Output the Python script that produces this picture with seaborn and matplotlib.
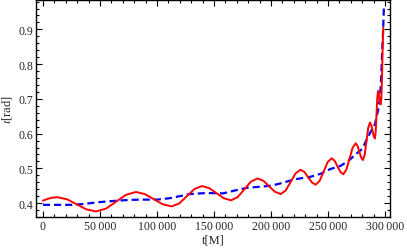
import matplotlib
matplotlib.use("Agg")
import matplotlib.pyplot as plt
import seaborn as sns
import pandas as pd
from matplotlib.ticker import MultipleLocator, FixedLocator, FixedFormatter

# ---- data ----
red_t = [0, 4000, 8000, 12700, 21150, 29600, 38050, 46500,
         55275, 64050, 72825, 81600, 89425, 97250, 105075, 112900,
         119550, 126200, 132850, 139500, 145875, 152250, 158625, 165000,
         170800, 176600, 182400, 188200, 193275, 198350, 203425, 208500,
         212875, 217250, 221625, 226000, 229300, 232600, 235900, 239200,
         242700, 246200, 249700, 253200, 255750, 258300, 260850, 263400,
         266125, 268850, 271575, 274300, 275900, 277500, 279100, 280700,
         282225, 283750, 285275, 286800, 287900, 289000, 290100, 291200,
         291875, 292550, 293225, 293900, 294475, 295050, 295625, 296200,
         296800, 297400, 297900, 298500]
red_y = [0.407, 0.412, 0.4155, 0.417, 0.411, 0.3965, 0.382, 0.376,
         0.384, 0.404, 0.4238, 0.432, 0.4259, 0.4113, 0.3966, 0.3905,
         0.399, 0.4198, 0.4405, 0.449, 0.443, 0.4285, 0.414, 0.408,
         0.4172, 0.4395, 0.4618, 0.471, 0.4644, 0.4485, 0.4326, 0.426,
         0.4362, 0.461, 0.4858, 0.496, 0.4897, 0.4745, 0.4593, 0.453,
         0.4641, 0.491, 0.5179, 0.529, 0.5223, 0.506, 0.4897, 0.483,
         0.496, 0.5275, 0.559, 0.572, 0.565, 0.548, 0.531, 0.524,
         0.5398, 0.578, 0.6162, 0.632, 0.6253, 0.609, 0.5927, 0.586,
         0.606, 0.6545, 0.703, 0.723, 0.717, 0.7035, 0.690, 0.684,
         0.70, 0.76, 0.84, 0.905]

blue_t = [0, 15000, 27000, 37000, 47000, 57000, 65000, 75000, 85000,
          100000, 111000, 120000, 129000, 143000, 158000, 168000, 179000,
          190000, 200000, 210000, 220000, 235000, 244000, 252000, 261000,
          268000, 276000, 280000, 287000, 291200, 294100, 295500, 296500,
          297600, 298300, 299100]
blue_y = [0.395, 0.395, 0.395, 0.398, 0.402, 0.405, 0.407, 0.409, 0.41,
          0.41, 0.414, 0.42, 0.426, 0.429, 0.428, 0.436, 0.444,
          0.447, 0.45, 0.458, 0.468, 0.476, 0.485, 0.498, 0.507,
          0.522, 0.545, 0.556, 0.603, 0.627, 0.67, 0.70, 0.75,
          0.842, 0.89, 0.967]

x_ticks = [0, 50000, 100000, 150000, 200000, 250000, 300000]
x_tick_labels = ["0", "50\u2009000", "100\u2009000", "150\u2009000",
                 "200\u2009000", "250\u2009000", "300\u2009000"]
y_ticks = [0.4, 0.5, 0.6, 0.7, 0.8, 0.9]
y_tick_labels = ["0.4", "0.5", "0.6", "0.7", "0.8", "0.9"]

sns.set_style("ticks")
plt.rcParams["font.family"] = ["Liberation Serif", "DejaVu Serif"]
plt.rcParams["mathtext.fontset"] = "stix"

fig = plt.figure(figsize=(4.07, 2.53), dpi=100)
ax = fig.add_axes([36 / 407, 1 - 218 / 253, (390 - 36) / 407, (218 - 0.5) / 253])

df_red = pd.DataFrame({"t": red_t, "y": red_y})
df_blue = pd.DataFrame({"t": blue_t, "y": blue_y})

sns.lineplot(data=df_blue, x="t", y="y", ax=ax, color="#0000ff", lw=1.6,
             linestyle=(0, (3.2, 1.8)), sort=False)
sns.lineplot(data=df_red, x="t", y="y", ax=ax, color="#ff0000", lw=1.4,
             sort=False)

ax.set_xlim(-6100, 304400)
ax.set_ylim(0.36, 0.986)

ax.xaxis.set_major_locator(FixedLocator(x_ticks))
ax.xaxis.set_major_formatter(FixedFormatter(x_tick_labels))
ax.yaxis.set_major_locator(FixedLocator(y_ticks))
ax.yaxis.set_major_formatter(FixedFormatter(y_tick_labels))
ax.xaxis.set_minor_locator(MultipleLocator(10000))
ax.yaxis.set_minor_locator(MultipleLocator(0.02))

ax.tick_params(which="both", direction="in", top=True, right=True,
               labelsize=8.5, color="black", pad=2, width=0.8)
ax.tick_params(which="major", length=4)
ax.tick_params(which="minor", length=2)

for s in ax.spines.values():
    s.set_visible(True)
    s.set_linewidth(1.0)
    s.set_color("black")

ax.set_xlabel("t[M]", fontsize=9, labelpad=1)
ax.set_ylabel("$\\iota$[rad]", fontsize=9, labelpad=3)

fig.savefig("out.png", dpi=100)
